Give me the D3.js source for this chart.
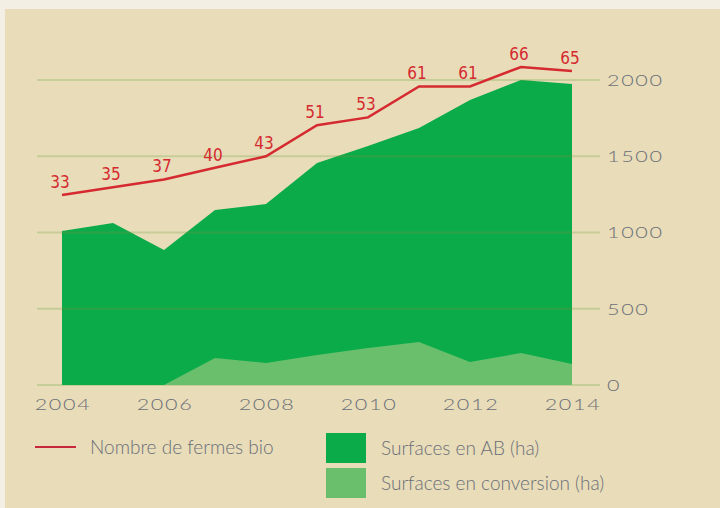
<!DOCTYPE html>
<html>
<head>
<meta charset="utf-8">
<script src="https://cdn.jsdelivr.net/npm/d3@7"></script>
<style>
  body { margin: 0; background: #f3efe4; }
  svg { display: block; }
  .lbl { font-family: Lato, "DejaVu Sans", sans-serif; font-weight: 300; fill: #6b6f78; }
</style>
</head>
<body>
<svg width="720" height="508"></svg>
<script>
const years = [2004, 2005, 2006, 2007, 2008, 2009, 2010, 2011, 2012, 2013, 2014];
// surfaces (ha)
const surfTotal = [1010, 1062, 885, 1148, 1187, 1456, 1567, 1685, 1869, 2000, 1974];
const surfConversion = [0, 0, 0, 177, 144, 197, 243, 282, 151, 210, 138];
const farms = [33, 35, 37, 40, 43, 51, 53, 61, 61, 66, 65];
const yTicks = [0, 500, 1000, 1500, 2000];
const xTicks = [2004, 2006, 2008, 2010, 2012, 2014];

const svg = d3.select('svg');

// Beige panel
svg.append('rect')
    .attr('x', 5).attr('y', 9)
    .attr('width', 715).attr('height', 499)
    .attr('fill', '#e8dcb9');

const x = d3.scaleLinear().domain([2004, 2014]).range([62, 572]);
const y = d3.scaleLinear().domain([0, 2000]).range([385, 80]);
// farm count uses its own (non zero-based) scale
const yFarms = d3.scaleLinear().domain([-16, 62.65]).range([385, 80]);

const data = years.map((yr, i) => ({
  year: yr, total: surfTotal[i], conv: surfConversion[i], farms: farms[i]
}));

const totalArea = d3.area().x(d => x(d.year)).y0(y(0)).y1(d => y(d.total));

svg.append('clipPath').attr('id', 'clip-total')
  .append('path').datum(data).attr('d', totalArea);

// Grid lines (under)
svg.append('g').selectAll('line').data(yTicks).join('line')
    .attr('x1', 37).attr('x2', 600)
    .attr('y1', d => y(d)).attr('y2', d => y(d))
    .attr('stroke', '#c6cd98').attr('stroke-width', 2);

// Areas
svg.append('path').datum(data)
    .attr('fill', '#0cab4a')
    .attr('d', totalArea);

svg.append('path').datum(data)
    .attr('fill', '#69bf6c')
    .attr('d', d3.area().x(d => x(d.year)).y0(y(0)).y1(d => y(d.conv)));

// Grid lines showing faintly through the areas
svg.append('g').attr('clip-path', 'url(#clip-total)')
  .selectAll('line').data(yTicks.slice(1)).join('line')
    .attr('x1', x(2004)).attr('x2', x(2014))
    .attr('y1', d => y(d)).attr('y2', d => y(d))
    .attr('stroke', '#7a8a3a').attr('stroke-opacity', 0.3).attr('stroke-width', 2);

// Farms line
svg.append('path').datum(data)
    .attr('fill', 'none')
    .attr('stroke', '#d52a2f')
    .attr('stroke-width', 2.5)
    .attr('d', d3.line().x(d => x(d.year)).y(d => yFarms(d.farms)));

svg.append('g').selectAll('text').data(data).join('text')
    .attr('x', d => x(d.year) - 2)
    .attr('y', d => yFarms(d.farms) - 7)
    .attr('text-anchor', 'middle')
    .attr('font-family', '"DejaVu Sans", sans-serif')
    .attr('font-stretch', 'condensed')
    .attr('font-size', 17)
    .attr('fill', '#d52a2f')
    .text(d => d.farms);

// Y axis labels (right) - wide geometric look via horizontal stretch
svg.append('g').selectAll('text').data(yTicks).join('text')
    .attr('class', 'lbl')
    .attr('transform', d => `translate(607,${y(d)}) scale(1.35,1)`)
    .attr('dy', '0.36em')
    .attr('font-size', 16)
    .attr('letter-spacing', 1.2)
    .text(d => d);

// X axis labels
svg.append('g').selectAll('text').data(xTicks).join('text')
    .attr('class', 'lbl')
    .attr('transform', d => `translate(${x(d) + 1},410) scale(1.35,1)`)
    .attr('text-anchor', 'middle')
    .attr('font-size', 16)
    .attr('letter-spacing', 1.2)
    .text(d => d);

// Legend
const legend = svg.append('g');
legend.append('line')
    .attr('x1', 35).attr('x2', 76).attr('y1', 447).attr('y2', 447)
    .attr('stroke', '#c8283c').attr('stroke-width', 2);
legend.append('text').attr('class', 'lbl')
    .attr('x', 90).attr('y', 447).attr('dy', '0.35em')
    .attr('font-size', 19)
    .text('Nombre de fermes bio');

const swatches = [
  { color: '#0cab4a', label: 'Surfaces en AB (ha)', y: 433 },
  { color: '#69bf6c', label: 'Surfaces en conversion (ha)', y: 468 }
];
legend.selectAll('rect').data(swatches).join('rect')
    .attr('x', 326).attr('y', d => d.y)
    .attr('width', 40).attr('height', 30)
    .attr('fill', d => d.color);
legend.selectAll('text.sw').data(swatches).join('text')
    .attr('class', 'lbl sw')
    .attr('x', 381).attr('y', d => d.y + 15).attr('dy', '0.35em')
    .attr('font-size', 19)
    .text(d => d.label);
</script>
</body>
</html>
